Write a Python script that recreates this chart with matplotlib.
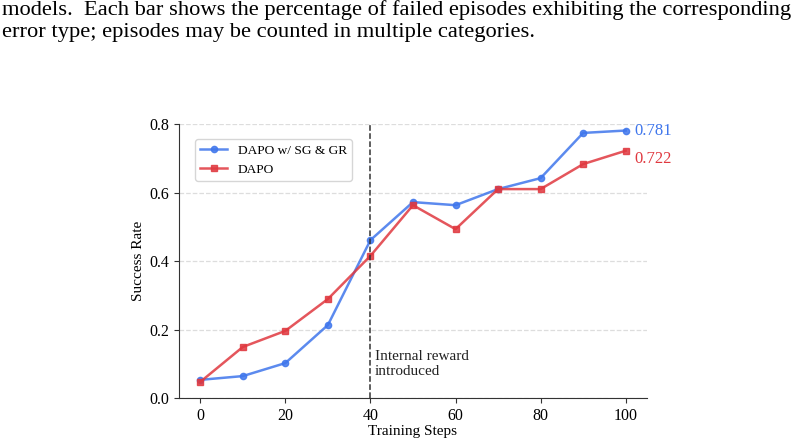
import numpy as np
import matplotlib
matplotlib.use("Agg")
from matplotlib import pyplot as plt

plt.rcParams['font.family'] = ['Liberation Serif', 'DejaVu Serif']

steps = [0, 10, 20, 30, 40, 50, 60, 70, 80, 90, 100]
sg_gr = [0.053, 0.064, 0.102, 0.213, 0.461, 0.572, 0.563, 0.610, 0.642, 0.774, 0.781]
dapo = [0.047, 0.149, 0.196, 0.289, 0.415, 0.563, 0.493, 0.610, 0.610, 0.683, 0.722]
caption = ["models.  Each bar shows the percentage of failed episodes exhibiting the corresponding",
           "error type; episodes may be counted in multiple categories."]

blue = '#3f76ec'
red = '#e0383f'

fig = plt.figure(figsize=(8.04, 4.45), dpi=100)
ax = fig.add_axes([0.2226, 0.1056, 0.5821, 0.6157])

ax.plot(steps, sg_gr, '-o', color=blue, alpha=0.85, lw=1.8, ms=4.5, label='DAPO w/ SG & GR')
ax.plot(steps, dapo, '-s', color=red, alpha=0.85, lw=1.8, ms=4.5, label='DAPO')

ax.axvline(40, color='#333333', ls='--', lw=1.1)
ax.text(41, 0.14, 'Internal reward\nintroduced', fontsize=11, va='top', ha='left', color='#222222')

ax.text(102, sg_gr[-1], '%.3f' % sg_gr[-1], color=blue, fontsize=12, va='center')
ax.text(102, dapo[-1] - 0.024, '%.3f' % dapo[-1], color=red, fontsize=12, va='center')

ax.set_xlim(-5, 105)
ax.set_ylim(0, 0.8)
ax.set_xticks(range(0, 101, 20))
ax.set_yticks([0.0, 0.2, 0.4, 0.6, 0.8])
ax.yaxis.grid(True, ls='--', color='#dddddd', lw=0.9)
ax.set_axisbelow(True)
for s in ['top', 'right']:
    ax.spines[s].set_visible(False)
for s in ['left', 'bottom']:
    ax.spines[s].set_color('#333333')
ax.tick_params(labelsize=11.5, color='#333333')
ax.set_xlabel('Training Steps', fontsize=11, labelpad=1)
ax.set_ylabel('Success Rate', fontsize=11, labelpad=3)
ax.legend(loc='upper left', fontsize=9.6, bbox_to_anchor=(0.02, 0.97), edgecolor='#cccccc')

fig.text(0.003, 0.978, caption[0], fontsize=16.2, va='center', ha='left')
fig.text(0.003, 0.928, caption[1], fontsize=16.2, va='center', ha='left')

fig.savefig('out.png', dpi=100)
